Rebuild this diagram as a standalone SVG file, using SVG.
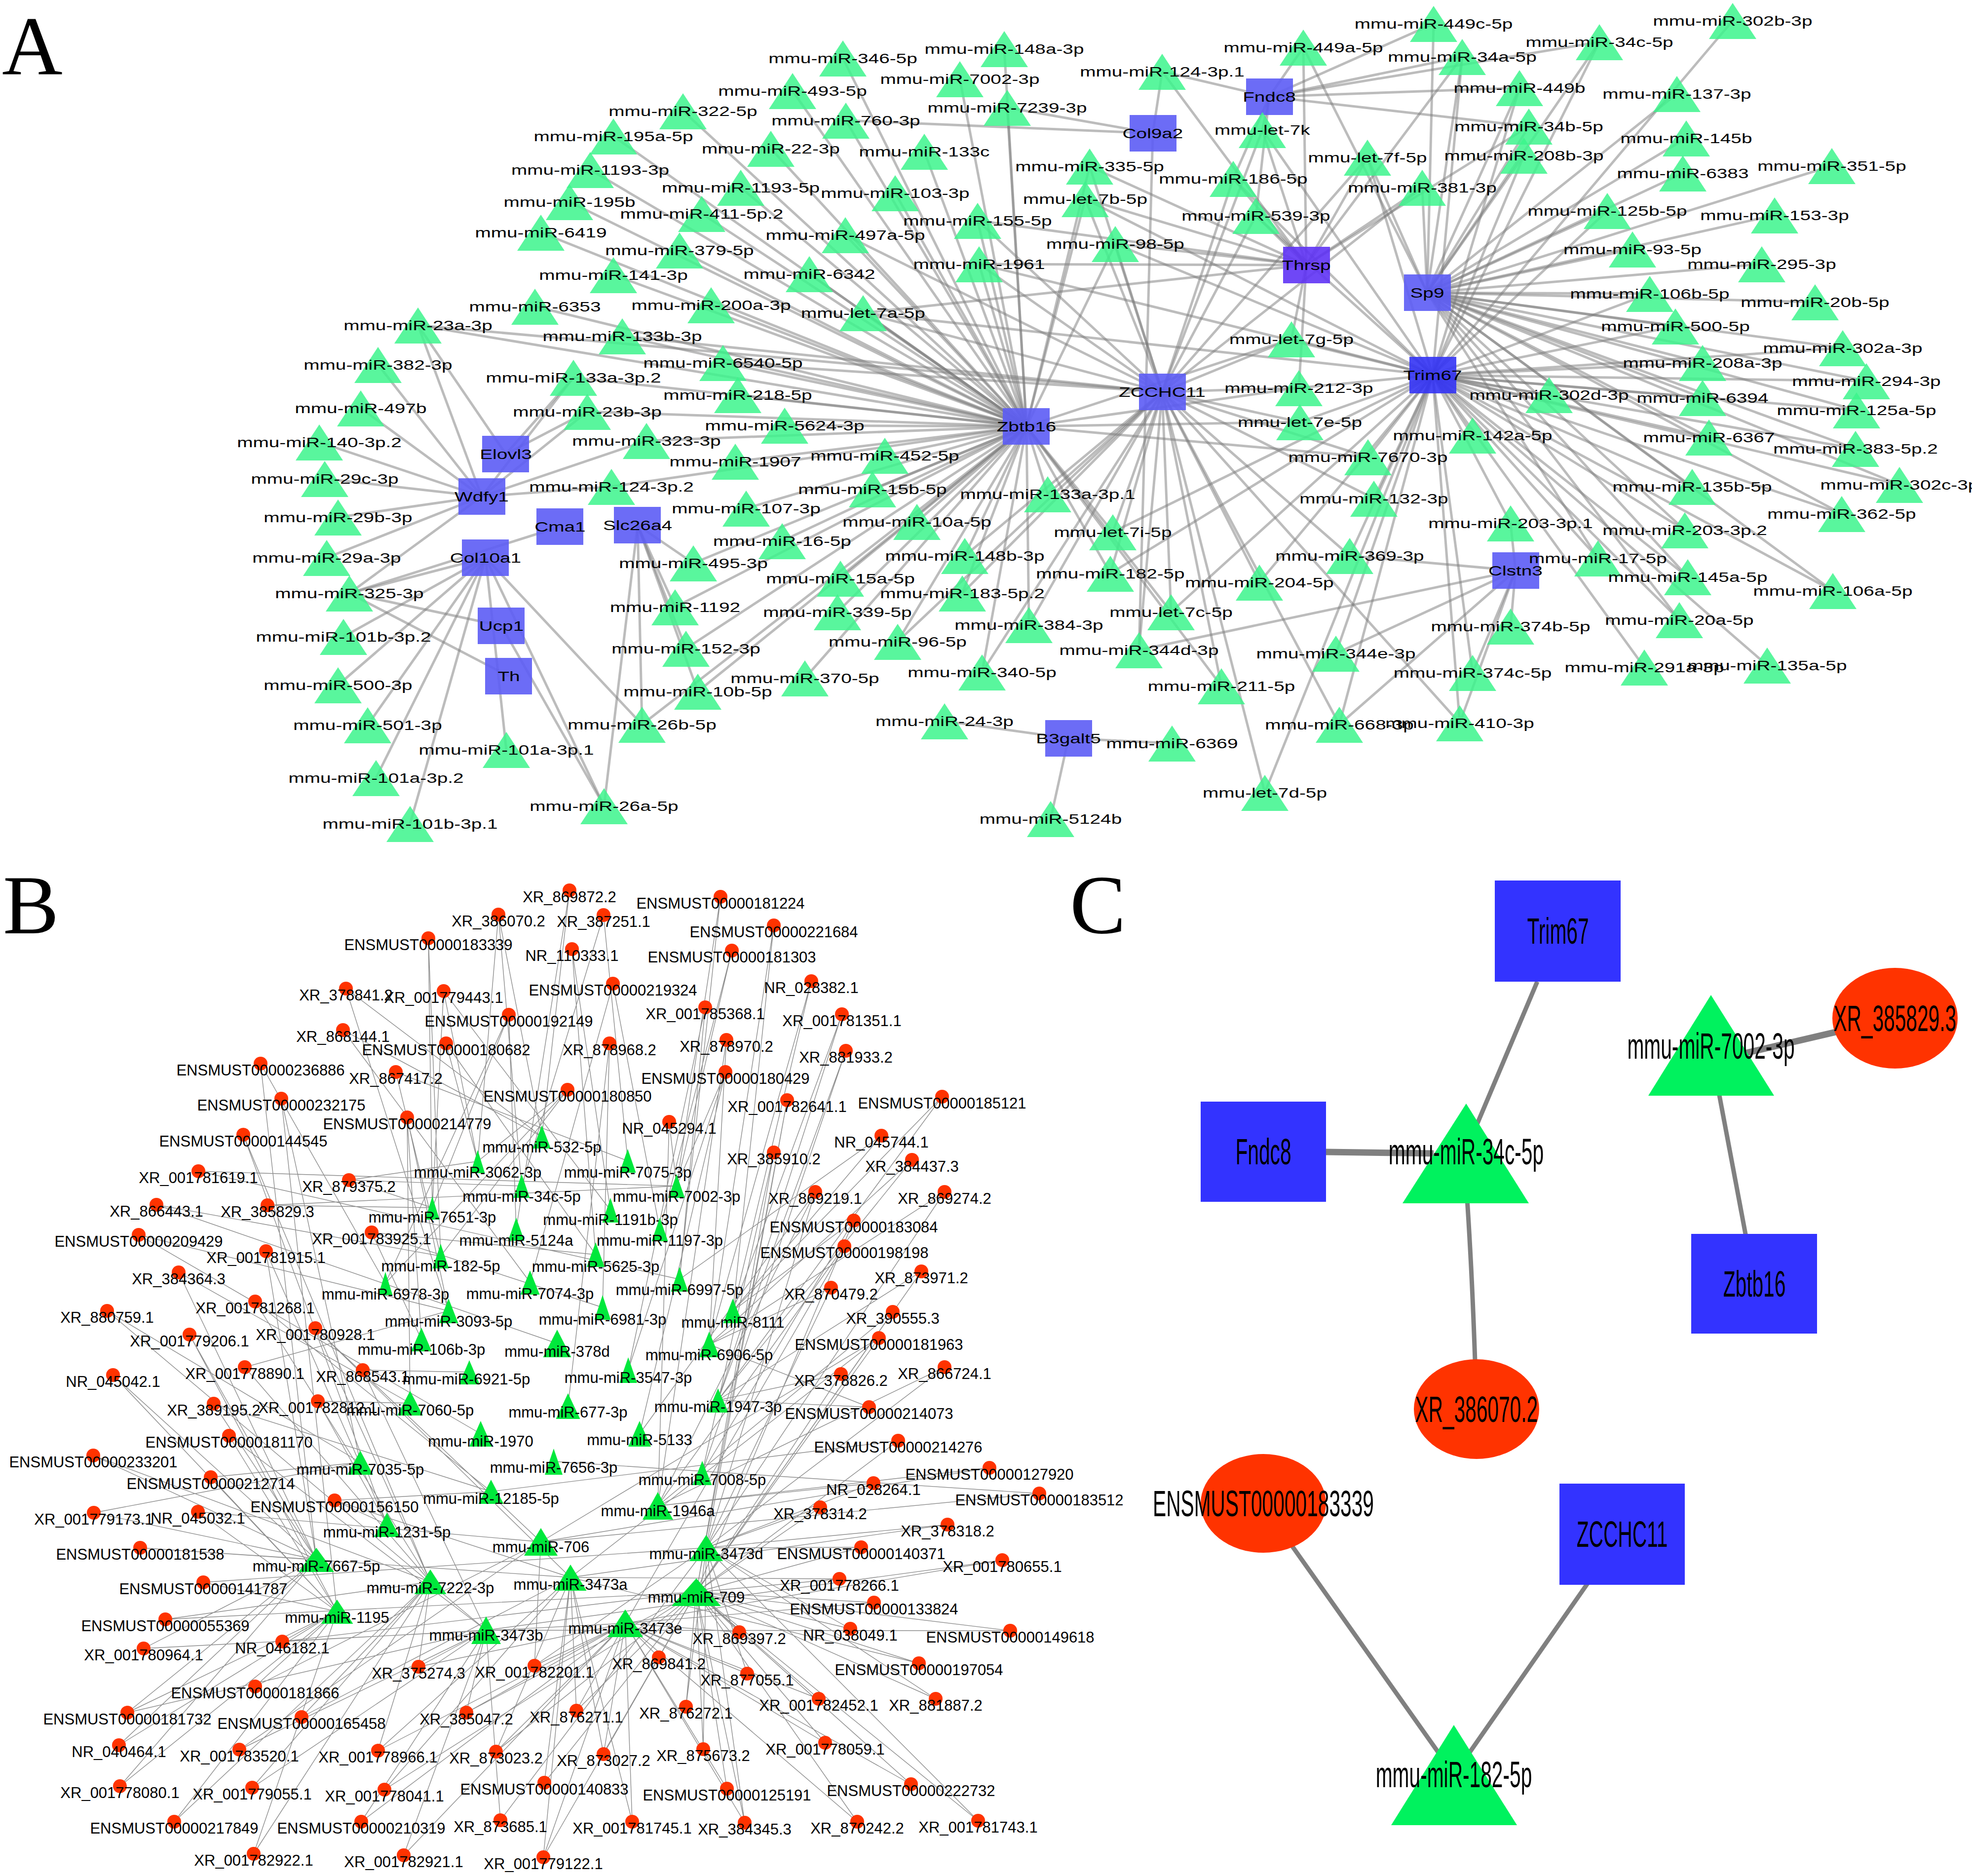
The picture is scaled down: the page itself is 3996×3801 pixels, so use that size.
<svg xmlns="http://www.w3.org/2000/svg" xmlns:xlink="http://www.w3.org/1999/xlink" width="3996" height="3801" viewBox="0 0 3996 3801">
<style>
text{font-family:"Liberation Sans",Arial,sans-serif;text-anchor:middle;fill:#000}
.plet{font-family:"Liberation Serif","Times New Roman",serif;font-size:170px;text-anchor:start}
#pa text{font-size:28.5px;transform-box:fill-box;transform-origin:50% 50%;transform:scaleX(1.36)}
#pa use{fill:#3cf58c;fill-opacity:.85}
#pa rect{fill:#5c5cf5;fill-opacity:.9}
#pb text{font-size:31px}
#pb polygon{fill:#00e83c}
#pb circle{fill:#ff3300}
#pc text{font-size:74px;transform-box:fill-box;transform-origin:50% 50%;transform:scaleX(.55)}
#pc rect{fill:#3333ff}
#pc ellipse{fill:#ff3300}
#pc polygon{fill:#00f25e}
.ea path{stroke:#7a7a7a;stroke-opacity:.5;stroke-width:5;fill:none}
.eb{stroke:#8e8e8e;stroke-width:1.4;fill:none}
.ec path{stroke:#808080;stroke-width:9;fill:none}
</style>
<defs>
<path id="ta" d="M0 -36L48 37L-48 37Z"/>
</defs>
<rect width="3996" height="3801" fill="#fff"/>
<text class="plet" x="4" y="151">A</text>
<text class="plet" x="6" y="1891">B</text>
<text class="plet" x="2168" y="1890">C</text>

<g id="connectors">
<g id="edges-a" class="ea">
<path d="M2080 864L1708 118"/><path d="M2080 864L2035 99"/><path d="M2080 864L1945 160"/><path d="M2080 864L1606 184"/><path d="M2080 864L1384 225"/><path d="M2080 864L1714 244"/><path d="M2080 864L2041 218"/><path d="M2080 864L1243 276"/><path d="M2080 864L1562 301"/><path d="M2080 864L1873 307"/><path d="M2080 864L1196 344"/><path d="M2080 864L1501 380"/><path d="M2080 864L1814 391"/><path d="M2080 864L1154 409"/><path d="M2080 864L1422 433"/><path d="M2080 864L1981 447"/><path d="M2080 864L1096 471"/><path d="M2080 864L1713 476"/><path d="M2080 864L1377 507"/><path d="M2080 864L1984 535"/><path d="M2080 864L1243 557"/><path d="M2080 864L1640 555"/><path d="M2080 864L1441 618"/><path d="M2080 864L1084 621"/><path d="M2080 864L1749 634"/><path d="M2080 864L847 659"/><path d="M2080 864L1261 681"/><path d="M2080 864L1465 735"/><path d="M2080 864L1162 765"/><path d="M2080 864L1495 800"/><path d="M2080 864L1190 834"/><path d="M2080 864L1590 862"/><path d="M2080 864L1310 893"/><path d="M2080 864L1793 923"/><path d="M2080 864L1490 935"/><path d="M2080 864L1239 986"/><path d="M2080 864L1768 991"/><path d="M2080 864L2123 1001"/><path d="M2080 864L1512 1030"/><path d="M2080 864L1858 1057"/><path d="M2080 864L1585 1096"/><path d="M2080 864L1955 1126"/><path d="M2080 864L1405 1141"/><path d="M2080 864L1703 1172"/><path d="M2080 864L1950 1202"/><path d="M2080 864L1697 1240"/><path d="M2080 864L1819 1300"/><path d="M2080 864L1990 1362"/><path d="M2080 864L1631 1374"/><path d="M2080 864L1414 1401"/><path d="M2080 864L1301 1468"/><path d="M2080 864L2085 1266"/><path d="M2080 864L2255 1078"/><path d="M2080 864L2250 1162"/><path d="M2080 864L2199 403"/><path d="M2080 864L2208 337"/><path d="M2080 864L2260 494"/><path d="M2080 864L2617 687"/><path d="M2080 864L2632 786"/><path d="M2080 864L2634 855"/><path d="M2080 864L2373 1240"/><path d="M2080 864L2475 1390"/><path d="M2080 864L2772 926"/><path d="M2080 864L1368 1230"/><path d="M2080 864L1390 1314"/>
<path d="M2355 794L2199 403"/><path d="M2355 794L1749 634"/><path d="M2355 794L2260 494"/><path d="M2355 794L2499 362"/><path d="M2355 794L2545 437"/><path d="M2355 794L2558 263"/><path d="M2355 794L2771 319"/><path d="M2355 794L2882 380"/><path d="M2355 794L1984 535"/><path d="M2355 794L1981 447"/><path d="M2355 794L2208 337"/><path d="M2355 794L2617 687"/><path d="M2355 794L2632 786"/><path d="M2355 794L2634 855"/><path d="M2355 794L2255 1078"/><path d="M2355 794L2250 1162"/><path d="M2355 794L2373 1240"/><path d="M2355 794L2552 1180"/><path d="M2355 794L2308 1317"/><path d="M2355 794L2475 1390"/><path d="M2355 794L2563 1606"/><path d="M2355 794L2714 1468"/><path d="M2355 794L2735 1126"/><path d="M2355 794L2784 1010"/><path d="M2355 794L2772 926"/><path d="M2355 794L2123 1001"/><path d="M2355 794L2085 1266"/><path d="M2355 794L1990 1362"/><path d="M2355 794L1950 1202"/><path d="M2355 794L1955 1126"/><path d="M2355 794L847 659"/><path d="M2355 794L1261 681"/><path d="M2355 794L1465 735"/><path d="M2355 794L1819 1300"/><path d="M2355 794L2958 1465"/><path d="M2355 794L1713 476"/>
<path d="M2903 760L3139 800"/><path d="M2903 760L2984 882"/><path d="M2903 760L2772 926"/><path d="M2903 760L2784 1010"/><path d="M2903 760L3061 1060"/><path d="M2903 760L3414 1074"/><path d="M2903 760L3238 1131"/><path d="M2903 760L3420 1169"/><path d="M2903 760L3403 1256"/><path d="M2903 760L3332 1352"/><path d="M2903 760L3581 1348"/><path d="M2903 760L3714 1197"/><path d="M2903 760L3732 1041"/><path d="M2903 760L3429 986"/><path d="M2903 760L3463 886"/><path d="M2903 760L3760 909"/><path d="M2903 760L3762 831"/><path d="M2903 760L3450 806"/><path d="M2903 760L3450 735"/><path d="M2903 760L3782 772"/><path d="M2903 760L3734 705"/><path d="M2903 760L3395 661"/><path d="M2903 760L3343 595"/><path d="M2903 760L3849 982"/><path d="M2903 760L2617 687"/><path d="M2903 760L2634 855"/><path d="M2903 760L2373 1240"/><path d="M2903 760L2563 1606"/><path d="M2903 760L2255 1078"/><path d="M2903 760L2199 403"/><path d="M2903 760L1749 634"/><path d="M2903 760L2771 319"/><path d="M2903 760L2558 263"/><path d="M2903 760L2260 494"/><path d="M2903 760L2632 786"/><path d="M2903 760L3088 315"/><path d="M2903 760L2963 115"/><path d="M2903 760L3511 42"/><path d="M2903 760L3079 178"/><path d="M2903 760L2735 1126"/><path d="M2903 760L2984 1363"/><path d="M2903 760L2958 1465"/><path d="M2903 760L2714 1468"/><path d="M2903 760L2707 1324"/><path d="M2903 760L2552 1180"/><path d="M2903 760L2250 1162"/><path d="M2903 760L1984 535"/><path d="M2903 760L3257 427"/><path d="M2903 760L3241 85"/><path d="M2903 760L2545 437"/><path d="M2903 760L2499 362"/>
<path d="M2892 593L2905 48"/><path d="M2892 593L3398 190"/><path d="M2892 593L3417 280"/><path d="M2892 593L3410 351"/><path d="M2892 593L3712 336"/><path d="M2892 593L3257 427"/><path d="M2892 593L3596 436"/><path d="M2892 593L3308 505"/><path d="M2892 593L3570 535"/><path d="M2892 593L3343 595"/><path d="M2892 593L3678 612"/><path d="M2892 593L3395 661"/><path d="M2892 593L3734 705"/><path d="M2892 593L3450 735"/><path d="M2892 593L3782 772"/><path d="M2892 593L3450 806"/><path d="M2892 593L3762 831"/><path d="M2892 593L3463 886"/><path d="M2892 593L3429 986"/><path d="M2892 593L3732 1041"/><path d="M2892 593L3760 909"/><path d="M2892 593L3241 85"/><path d="M2892 593L2882 380"/><path d="M2892 593L2771 319"/><path d="M2892 593L3088 315"/><path d="M2892 593L3098 256"/><path d="M2892 593L3079 178"/><path d="M2892 593L3414 1074"/><path d="M2892 593L3420 1169"/><path d="M2892 593L3238 1131"/><path d="M2892 593L3714 1197"/><path d="M2892 593L3403 1256"/><path d="M2892 593L3849 982"/><path d="M2892 593L2963 115"/><path d="M2892 593L2641 96"/>
<path d="M2647 537L1984 535"/><path d="M2647 537L1749 634"/><path d="M2647 537L2260 494"/><path d="M2647 537L2499 362"/><path d="M2647 537L2545 437"/><path d="M2647 537L2558 263"/><path d="M2647 537L2771 319"/><path d="M2647 537L2882 380"/><path d="M2647 537L2208 337"/><path d="M2647 537L2199 403"/><path d="M2647 537L1981 447"/><path d="M2647 537L2355 145"/><path d="M2647 537L2641 96"/><path d="M2647 537L2617 687"/><path d="M2647 537L2632 786"/><path d="M2647 537L2963 115"/><path d="M2647 537L3098 256"/>
<path d="M2572 196L2355 145"/><path d="M2572 196L2641 96"/><path d="M2572 196L2905 48"/><path d="M2572 196L2963 115"/><path d="M2572 196L3241 85"/><path d="M2572 196L3079 178"/><path d="M2572 196L3098 256"/><path d="M2572 196L2558 263"/><path d="M2572 196L2545 437"/><path d="M2572 196L2499 362"/>
<path d="M2336 270L1714 244"/><path d="M2336 270L2041 218"/><path d="M2336 270L2355 145"/><path d="M2336 270L2308 1317"/>
<path d="M3071 1156L2735 1126"/><path d="M3071 1156L3061 1060"/><path d="M3071 1156L3061 1269"/><path d="M3071 1156L2984 1363"/><path d="M3071 1156L2707 1324"/><path d="M3071 1156L2958 1465"/><path d="M3071 1156L2308 1317"/><path d="M3071 1156L2714 1468"/>
<path d="M2165 1496L1914 1461"/><path d="M2165 1496L2375 1506"/><path d="M2165 1496L2129 1659"/>
<path d="M976 1006L647 896"/><path d="M976 1006L658 970"/><path d="M976 1006L685 1048"/><path d="M976 1006L662 1130"/><path d="M976 1006L708 1202"/><path d="M976 1006L731 827"/><path d="M976 1006L766 739"/><path d="M976 1006L847 659"/><path d="M976 1006L1190 834"/><path d="M976 1006L1239 986"/><path d="M976 1006L1162 765"/><path d="M976 1006L1310 893"/>
<path d="M1025 920L847 659"/><path d="M1025 920L1190 834"/><path d="M1025 920L1162 765"/>
<path d="M984 1130L708 1202"/><path d="M984 1130L696 1290"/><path d="M984 1130L685 1388"/><path d="M984 1130L745 1469"/><path d="M984 1130L762 1576"/><path d="M984 1130L831 1669"/><path d="M984 1130L1026 1519"/><path d="M984 1130L1224 1633"/><path d="M984 1130L1301 1468"/>
<path d="M1135 1067L708 1202"/><path d="M1016 1268L708 1202"/><path d="M1016 1268L1224 1633"/><path d="M1031 1370L708 1202"/>
<path d="M1292 1064L1405 1141"/><path d="M1292 1064L1368 1230"/><path d="M1292 1064L1301 1468"/><path d="M1292 1064L1224 1633"/><path d="M1292 1064L1390 1314"/><path d="M1292 1064L1414 1401"/>
</g>
<g id="edges-b">
<path class="eb" d="M1010 1853L1057 2403M1010 1853L1098 2303M1010 1853L968 2353M868 1901L893 2545M868 1901L876 2447M701 2003L1098 2303M701 2003L909 2656M899 2008L876 2447M899 2008L968 2353M899 2008L1237 2452M695 2087L1098 2303M695 2087L1074 2598M904 2114L968 2353M904 2114L1207 2542M528 2155L641 3160M528 2155L781 2600M802 2172L1272 2352M802 2172L893 2545M570 2226L730 2963M570 2226L683 3265M825 2264L909 2656M825 2264L854 2714M825 2264L831 2843M493 2299L784 3089M493 2299L872 3205M402 2373L1371 2403M402 2373L1377 2592M707 2391L968 2353M707 2391L876 2447M707 2391L1057 2403M317 2441L893 2545M317 2441L1129 2722M542 2442L1371 2403M542 2442L876 2447M281 2502L909 2656M281 2502L974 2905M753 2497L1221 2649M753 2497L1207 2542M753 2497L854 2714M539 2535L784 3089M539 2535L641 3160M362 2578L831 2843M362 2578L641 3160M517 2637L872 3205M517 2637L995 3022M217 2656L730 2963M217 2656L985 3303M384 2704L683 3265M384 2704L641 3160M639 2691L1096 3124M639 2691L1156 3196M639 2691L872 3205"/>
<path class="eb" d="M1154 1804L1098 2303M1154 1804L1046 2490M1460 1817L1377 2592M1460 1817L1371 2403M1223 1854L1272 2352M1223 1854L1057 2403M1568 1875L1485 2656M1568 1875L1437 2724M1159 1923L1237 2452M1159 1923L1207 2542M1483 1926L1371 2403M1483 1926L1337 2491M1242 1993L1074 2598M1242 1993L1337 2491M1644 1988L1485 2656M1644 1988L1437 2724M1031 2056L876 2447M1031 2056L781 2600M1031 2056L1046 2490M1429 2041L1377 2592M1429 2041L1273 2776M1706 2055L1455 2837M1706 2055L1485 2656M1235 2114L1221 2649M1235 2114L1151 2849M1472 2107L1437 2724M1472 2107L1333 3051M1714 2129L1455 2837M1714 2129L1423 2984M1470 2172L1371 2403M1470 2172L1273 2776M1470 2172L1296 2905M1150 2208L893 2545M1150 2208L781 2600M1150 2208L968 2353M1595 2229L1431 3136M1595 2229L1411 3226M1909 2222L1485 2656M1909 2222L1455 2837M1356 2273L1371 2403M1356 2273L1333 3051M1786 2301L1377 2592M1786 2301L1485 2656M1568 2335L1411 3226M1568 2335L1423 2984M1848 2350L1455 2837M1848 2350L1437 2724M1652 2415L1431 3136M1652 2415L1333 3051M1652 2415L1296 2905M1914 2415L1437 2724M1914 2415L1431 3136M1730 2473L1411 3226M1730 2473L1423 2984M1730 2473L1485 2656M1711 2525L1333 3051M1711 2525L1267 3289M1867 2576L1411 3226M1867 2576L1455 2837M1684 2609L1431 3136M1684 2609L1437 2724M1809 2658L1411 3226M1809 2658L1333 3051M1781 2711L1096 3124M1781 2711L1156 3196M1781 2711L1411 3226"/>
<path class="eb" d="M496 2770L872 3205M496 2770L909 2656M229 2786L683 3265M229 2786L641 3160M735 2776L951 2780M735 2776L985 3303M433 2844L641 3160M433 2844L995 3022M644 2839L831 2843M644 2839L784 3089M464 2909L683 3265M464 2909L985 3303M189 2949L641 3160M189 2949L872 3205M427 2993L730 2963M427 2993L683 3265M678 3040L784 3089M678 3040L1156 3196M678 3040L995 3022M190 3065L641 3160M190 3065L730 2963M401 3063L683 3265M401 3063L1096 3124M284 3136L641 3160M284 3136L1156 3196M412 3206L683 3265M412 3206L1431 3136M335 3281L872 3205M335 3281L1411 3226M291 3340L641 3160M291 3340L1267 3289M572 3326L683 3265M572 3326L985 3303M572 3326L1411 3226M848 3377L985 3303M848 3377L872 3205M848 3377L1267 3289M517 3417L683 3265M517 3417L1096 3124M258 3470L641 3160M258 3470L683 3265M258 3470L985 3303M611 3479L1156 3196M611 3479L872 3205M945 3470L1267 3289M945 3470L1411 3226M945 3470L985 3303M241 3536L683 3265M241 3536L641 3160M485 3545L985 3303M485 3545L1096 3124M766 3547L1267 3289M766 3547L1156 3196M766 3547L872 3205M243 3619L683 3265M243 3619L641 3160M511 3622L872 3205M511 3622L985 3303M779 3626L1156 3196M779 3626L1411 3226M353 3691L683 3265M353 3691L872 3205M732 3691L985 3303M732 3691L1267 3289M514 3756L872 3205M514 3756L683 3265M818 3759L985 3303M818 3759L1267 3289M1005 3549L1156 3196M1005 3549L1411 3226M1005 3549L1267 3289M1014 3688L985 3303M1014 3688L1431 3136M1101 3763L1411 3226M1101 3763L1267 3289M1101 3763L1156 3196M1083 3375L1267 3289M1083 3375L1431 3136M1083 3375L1096 3124M1103 3612L1156 3196M1103 3612L1411 3226"/>
<path class="eb" d="M1704 2784L1455 2837M1704 2784L1411 3226M1914 2770L1431 3136M1914 2770L1333 3051M1761 2851L1455 2837M1761 2851L1437 2724M1820 2919L1411 3226M1820 2919L995 3022M2005 2974L1333 3051M2005 2974L1096 3124M1770 3005L1431 3136M1770 3005L1333 3051M2106 3026L1096 3124M2106 3026L1122 2961M1662 3054L1431 3136M1662 3054L1411 3226M1920 3089L1431 3136M1920 3089L1156 3196M1745 3135L1431 3136M1745 3135L1411 3226M2031 3161L1267 3289M2031 3161L985 3303M1701 3199L1411 3226M1701 3199L1156 3196M1771 3247L1411 3226M1771 3247L1267 3289M1723 3300L1411 3226M1723 3300L1431 3136M2047 3304L985 3303M2047 3304L1411 3226M1498 3307L1411 3226M1498 3307L1267 3289M1335 3358L1267 3289M1335 3358L1411 3226M1514 3391L1431 3136M1514 3391L1267 3289M1862 3370L1411 3226M1862 3370L1156 3196M1659 3442L1411 3226M1659 3442L1267 3289M1896 3442L1431 3136M1896 3442L1411 3226M1168 3466L1267 3289M1168 3466L1156 3196M1168 3466L1411 3226M1390 3458L1431 3136M1390 3458L1411 3226M1672 3531L1411 3226M1672 3531L1267 3289M1223 3554L1156 3196M1223 3554L1267 3289M1223 3554L1411 3226M1425 3544L1411 3226M1425 3544L1431 3136M1473 3624L1411 3226M1473 3624L1267 3289M1846 3615L1411 3226M1846 3615L1267 3289M1281 3691L1267 3289M1281 3691L1156 3196M1509 3693L1411 3226M1509 3693L1267 3289M1509 3693L1431 3136M1737 3691L1411 3226M1737 3691L1267 3289M1982 3689L1411 3226M1982 3689L1431 3136"/>
</g>
<g id="edges-c" class="ec">
<path d="M2687 2334L2905 2337" style="stroke-width:13"/>
<path d="M3115 1989L2971 2330"/>
<path d="M2971 2400Q2985 2600 2992 2855"/>
<path d="M3467 2150L3840 2063" style="stroke-width:13"/>
<path d="M3471 2150L3556 2601"/>
<path d="M2557 3046L2946 3595"/>
<path d="M3287 3108L2947 3595"/>
</g>
</g>

<g id="pa">
<g id="a-zbtb16"><rect x="2032" y="827" width="95" height="74"/><text x="2080" y="874">Zbtb16</text></g>
<g id="a-zcchc11"><rect x="2308" y="757" width="95" height="74"/><text x="2355" y="804">ZCCHC11</text></g>
<g id="a-trim67"><rect x="2856" y="723" width="95" height="74" style="fill:#3333f5"/><text x="2903" y="770">Trim67</text></g>
<g id="a-sp9"><rect x="2845" y="556" width="95" height="74"/><text x="2892" y="603">Sp9</text></g>
<g id="a-thrsp"><rect x="2600" y="500" width="95" height="74" style="fill:#5f33f5"/><text x="2647" y="547">Thrsp</text></g>
<g id="a-col9a2"><rect x="2289" y="233" width="95" height="74"/><text x="2336" y="280">Col9a2</text></g>
<g id="a-fndc8"><rect x="2525" y="159" width="95" height="74"/><text x="2572" y="206">Fndc8</text></g>
<g id="a-clstn3"><rect x="3024" y="1119" width="95" height="74"/><text x="3071" y="1166">Clstn3</text></g>
<g id="a-b3galt5"><rect x="2118" y="1459" width="95" height="74"/><text x="2165" y="1506">B3galt5</text></g>
<g id="a-elovl3"><rect x="977" y="883" width="95" height="74"/><text x="1025" y="930">Elovl3</text></g>
<g id="a-wdfy1"><rect x="929" y="969" width="95" height="74"/><text x="976" y="1016">Wdfy1</text></g>
<g id="a-cma1"><rect x="1087" y="1030" width="95" height="74"/><text x="1135" y="1077">Cma1</text></g>
<g id="a-col10a1"><rect x="936" y="1093" width="95" height="74"/><text x="984" y="1140">Col10a1</text></g>
<g id="a-slc26a4"><rect x="1244" y="1027" width="95" height="74"/><text x="1292" y="1074">Slc26a4</text></g>
<g id="a-ucp1"><rect x="968" y="1231" width="95" height="74"/><text x="1016" y="1278">Ucp1</text></g>
<g id="a-th"><rect x="983" y="1333" width="95" height="74"/><text x="1031" y="1380">Th</text></g>

<g id="a-mir-346-5p"><use href="#ta" x="1708" y="118"/><text x="1708" y="128">mmu-miR-346-5p</text></g>
<g id="a-mir-148a-3p"><use href="#ta" x="2035" y="99"/><text x="2035" y="109">mmu-miR-148a-3p</text></g>
<g id="a-mir-7002-3p"><use href="#ta" x="1945" y="160"/><text x="1945" y="170">mmu-miR-7002-3p</text></g>
<g id="a-mir-124-3p-1"><use href="#ta" x="2355" y="145"/><text x="2355" y="155">mmu-miR-124-3p.1</text></g>
<g id="a-mir-493-5p"><use href="#ta" x="1606" y="184"/><text x="1606" y="194">mmu-miR-493-5p</text></g>
<g id="a-mir-322-5p"><use href="#ta" x="1384" y="225"/><text x="1384" y="235">mmu-miR-322-5p</text></g>
<g id="a-mir-760-3p"><use href="#ta" x="1714" y="244"/><text x="1714" y="254">mmu-miR-760-3p</text></g>
<g id="a-mir-7239-3p"><use href="#ta" x="2041" y="218"/><text x="2041" y="228">mmu-miR-7239-3p</text></g>
<g id="a-mir-195a-5p"><use href="#ta" x="1243" y="276"/><text x="1243" y="286">mmu-miR-195a-5p</text></g>
<g id="a-mir-22-3p"><use href="#ta" x="1562" y="301"/><text x="1562" y="311">mmu-miR-22-3p</text></g>
<g id="a-mir-133c"><use href="#ta" x="1873" y="307"/><text x="1873" y="317">mmu-miR-133c</text></g>
<g id="a-mir-1193-3p"><use href="#ta" x="1196" y="344"/><text x="1196" y="354">mmu-miR-1193-3p</text></g>
<g id="a-mir-335-5p"><use href="#ta" x="2208" y="337"/><text x="2208" y="347">mmu-miR-335-5p</text></g>
<g id="a-mir-1193-5p"><use href="#ta" x="1501" y="380"/><text x="1501" y="390">mmu-miR-1193-5p</text></g>
<g id="a-mir-103-3p"><use href="#ta" x="1814" y="391"/><text x="1814" y="401">mmu-miR-103-3p</text></g>
<g id="a-mir-195b"><use href="#ta" x="1154" y="409"/><text x="1154" y="419">mmu-miR-195b</text></g>
<g id="a-let-7b-5p"><use href="#ta" x="2199" y="403"/><text x="2199" y="413">mmu-let-7b-5p</text></g>
<g id="a-mir-411-5p-2"><use href="#ta" x="1422" y="433"/><text x="1422" y="443">mmu-miR-411-5p.2</text></g>
<g id="a-mir-155-5p"><use href="#ta" x="1981" y="447"/><text x="1981" y="457">mmu-miR-155-5p</text></g>
<g id="a-mir-6419"><use href="#ta" x="1096" y="471"/><text x="1096" y="481">mmu-miR-6419</text></g>
<g id="a-mir-497a-5p"><use href="#ta" x="1713" y="476"/><text x="1713" y="486">mmu-miR-497a-5p</text></g>
<g id="a-mir-98-5p"><use href="#ta" x="2260" y="494"/><text x="2260" y="504">mmu-miR-98-5p</text></g>
<g id="a-mir-379-5p"><use href="#ta" x="1377" y="507"/><text x="1377" y="517">mmu-miR-379-5p</text></g>
<g id="a-mir-1961"><use href="#ta" x="1984" y="535"/><text x="1984" y="545">mmu-miR-1961</text></g>
<g id="a-mir-141-3p"><use href="#ta" x="1243" y="557"/><text x="1243" y="567">mmu-miR-141-3p</text></g>
<g id="a-mir-6342"><use href="#ta" x="1640" y="555"/><text x="1640" y="565">mmu-miR-6342</text></g>
<g id="a-mir-200a-3p"><use href="#ta" x="1441" y="618"/><text x="1441" y="628">mmu-miR-200a-3p</text></g>
<g id="a-mir-6353"><use href="#ta" x="1084" y="621"/><text x="1084" y="631">mmu-miR-6353</text></g>
<g id="a-let-7a-5p"><use href="#ta" x="1749" y="634"/><text x="1749" y="644">mmu-let-7a-5p</text></g>
<g id="a-mir-23a-3p"><use href="#ta" x="847" y="659"/><text x="847" y="669">mmu-miR-23a-3p</text></g>
<g id="a-mir-133b-3p"><use href="#ta" x="1261" y="681"/><text x="1261" y="691">mmu-miR-133b-3p</text></g>
<g id="a-mir-6540-5p"><use href="#ta" x="1465" y="735"/><text x="1465" y="745">mmu-miR-6540-5p</text></g>
<g id="a-mir-382-3p"><use href="#ta" x="766" y="739"/><text x="766" y="749">mmu-miR-382-3p</text></g>
<g id="a-mir-133a-3p-2"><use href="#ta" x="1162" y="765"/><text x="1162" y="775">mmu-miR-133a-3p.2</text></g>
<g id="a-mir-218-5p"><use href="#ta" x="1495" y="800"/><text x="1495" y="810">mmu-miR-218-5p</text></g>
<g id="a-mir-497b"><use href="#ta" x="731" y="827"/><text x="731" y="837">mmu-miR-497b</text></g>
<g id="a-mir-23b-3p"><use href="#ta" x="1190" y="834"/><text x="1190" y="844">mmu-miR-23b-3p</text></g>
<g id="a-mir-5624-3p"><use href="#ta" x="1590" y="862"/><text x="1590" y="872">mmu-miR-5624-3p</text></g>
<g id="a-mir-323-3p"><use href="#ta" x="1310" y="893"/><text x="1310" y="903">mmu-miR-323-3p</text></g>
<g id="a-mir-140-3p-2"><use href="#ta" x="647" y="896"/><text x="647" y="906">mmu-miR-140-3p.2</text></g>
<g id="a-mir-452-5p"><use href="#ta" x="1793" y="923"/><text x="1793" y="933">mmu-miR-452-5p</text></g>
<g id="a-mir-1907"><use href="#ta" x="1490" y="935"/><text x="1490" y="945">mmu-miR-1907</text></g>
<g id="a-mir-29c-3p"><use href="#ta" x="658" y="970"/><text x="658" y="980">mmu-miR-29c-3p</text></g>
<g id="a-mir-124-3p-2"><use href="#ta" x="1239" y="986"/><text x="1239" y="996">mmu-miR-124-3p.2</text></g>
<g id="a-mir-15b-5p"><use href="#ta" x="1768" y="991"/><text x="1768" y="1001">mmu-miR-15b-5p</text></g>
<g id="a-mir-133a-3p-1"><use href="#ta" x="2123" y="1001"/><text x="2123" y="1011">mmu-miR-133a-3p.1</text></g>
<g id="a-mir-107-3p"><use href="#ta" x="1512" y="1030"/><text x="1512" y="1040">mmu-miR-107-3p</text></g>
<g id="a-mir-29b-3p"><use href="#ta" x="685" y="1048"/><text x="685" y="1058">mmu-miR-29b-3p</text></g>
<g id="a-mir-10a-5p"><use href="#ta" x="1858" y="1057"/><text x="1858" y="1067">mmu-miR-10a-5p</text></g>
<g id="a-let-7i-5p"><use href="#ta" x="2255" y="1078"/><text x="2255" y="1088">mmu-let-7i-5p</text></g>
<g id="a-mir-16-5p"><use href="#ta" x="1585" y="1096"/><text x="1585" y="1106">mmu-miR-16-5p</text></g>
<g id="a-mir-148b-3p"><use href="#ta" x="1955" y="1126"/><text x="1955" y="1136">mmu-miR-148b-3p</text></g>
<g id="a-mir-29a-3p"><use href="#ta" x="662" y="1130"/><text x="662" y="1140">mmu-miR-29a-3p</text></g>
<g id="a-mir-495-3p"><use href="#ta" x="1405" y="1141"/><text x="1405" y="1151">mmu-miR-495-3p</text></g>
<g id="a-mir-182-5p"><use href="#ta" x="2250" y="1162"/><text x="2250" y="1172">mmu-miR-182-5p</text></g>
<g id="a-mir-15a-5p"><use href="#ta" x="1703" y="1172"/><text x="1703" y="1182">mmu-miR-15a-5p</text></g>
<g id="a-mir-204-5p"><use href="#ta" x="2552" y="1180"/><text x="2552" y="1190">mmu-miR-204-5p</text></g>
<g id="a-mir-183-5p-2"><use href="#ta" x="1950" y="1202"/><text x="1950" y="1212">mmu-miR-183-5p.2</text></g>
<g id="a-mir-325-3p"><use href="#ta" x="708" y="1202"/><text x="708" y="1212">mmu-miR-325-3p</text></g>
<g id="a-mir-1192"><use href="#ta" x="1368" y="1230"/><text x="1368" y="1240">mmu-miR-1192</text></g>
<g id="a-let-7c-5p"><use href="#ta" x="2373" y="1240"/><text x="2373" y="1250">mmu-let-7c-5p</text></g>
<g id="a-mir-339-5p"><use href="#ta" x="1697" y="1240"/><text x="1697" y="1250">mmu-miR-339-5p</text></g>
<g id="a-mir-384-3p"><use href="#ta" x="2085" y="1266"/><text x="2085" y="1276">mmu-miR-384-3p</text></g>
<g id="a-mir-101b-3p-2"><use href="#ta" x="696" y="1290"/><text x="696" y="1300">mmu-miR-101b-3p.2</text></g>
<g id="a-mir-96-5p"><use href="#ta" x="1819" y="1300"/><text x="1819" y="1310">mmu-miR-96-5p</text></g>
<g id="a-mir-152-3p"><use href="#ta" x="1390" y="1314"/><text x="1390" y="1324">mmu-miR-152-3p</text></g>
<g id="a-mir-344d-3p"><use href="#ta" x="2308" y="1317"/><text x="2308" y="1327">mmu-miR-344d-3p</text></g>
<g id="a-mir-340-5p"><use href="#ta" x="1990" y="1362"/><text x="1990" y="1372">mmu-miR-340-5p</text></g>
<g id="a-mir-370-5p"><use href="#ta" x="1631" y="1374"/><text x="1631" y="1384">mmu-miR-370-5p</text></g>
<g id="a-mir-500-3p"><use href="#ta" x="685" y="1388"/><text x="685" y="1398">mmu-miR-500-3p</text></g>
<g id="a-mir-211-5p"><use href="#ta" x="2475" y="1390"/><text x="2475" y="1400">mmu-miR-211-5p</text></g>
<g id="a-mir-10b-5p"><use href="#ta" x="1414" y="1401"/><text x="1414" y="1411">mmu-miR-10b-5p</text></g>
<g id="a-mir-24-3p"><use href="#ta" x="1914" y="1461"/><text x="1914" y="1471">mmu-miR-24-3p</text></g>
<g id="a-mir-26b-5p"><use href="#ta" x="1301" y="1468"/><text x="1301" y="1478">mmu-miR-26b-5p</text></g>
<g id="a-mir-501-3p"><use href="#ta" x="745" y="1469"/><text x="745" y="1479">mmu-miR-501-3p</text></g>
<g id="a-mir-6369"><use href="#ta" x="2375" y="1506"/><text x="2375" y="1516">mmu-miR-6369</text></g>
<g id="a-mir-101a-3p-1"><use href="#ta" x="1026" y="1519"/><text x="1026" y="1529">mmu-miR-101a-3p.1</text></g>
<g id="a-mir-101a-3p-2"><use href="#ta" x="762" y="1576"/><text x="762" y="1586">mmu-miR-101a-3p.2</text></g>
<g id="a-let-7d-5p"><use href="#ta" x="2563" y="1606"/><text x="2563" y="1616">mmu-let-7d-5p</text></g>
<g id="a-mir-26a-5p"><use href="#ta" x="1224" y="1633"/><text x="1224" y="1643">mmu-miR-26a-5p</text></g>
<g id="a-mir-5124b"><use href="#ta" x="2129" y="1659"/><text x="2129" y="1669">mmu-miR-5124b</text></g>
<g id="a-mir-101b-3p-1"><use href="#ta" x="831" y="1669"/><text x="831" y="1679">mmu-miR-101b-3p.1</text></g>
<g id="a-let-7k"><use href="#ta" x="2558" y="263"/><text x="2558" y="273">mmu-let-7k</text></g>
<g id="a-mir-186-5p"><use href="#ta" x="2499" y="362"/><text x="2499" y="372">mmu-miR-186-5p</text></g>
<g id="a-mir-539-3p"><use href="#ta" x="2545" y="437"/><text x="2545" y="447">mmu-miR-539-3p</text></g>
<g id="a-let-7f-5p"><use href="#ta" x="2771" y="319"/><text x="2771" y="329">mmu-let-7f-5p</text></g>
<g id="a-mir-381-3p"><use href="#ta" x="2882" y="380"/><text x="2882" y="390">mmu-miR-381-3p</text></g>
<g id="a-mir-449a-5p"><use href="#ta" x="2641" y="96"/><text x="2641" y="106">mmu-miR-449a-5p</text></g>
<g id="a-mir-449c-5p"><use href="#ta" x="2905" y="48"/><text x="2905" y="58">mmu-miR-449c-5p</text></g>
<g id="a-mir-34a-5p"><use href="#ta" x="2963" y="115"/><text x="2963" y="125">mmu-miR-34a-5p</text></g>
<g id="a-mir-34c-5p"><use href="#ta" x="3241" y="85"/><text x="3241" y="95">mmu-miR-34c-5p</text></g>
<g id="a-mir-302b-3p"><use href="#ta" x="3511" y="42"/><text x="3511" y="52">mmu-miR-302b-3p</text></g>
<g id="a-mir-449b"><use href="#ta" x="3079" y="178"/><text x="3079" y="188">mmu-miR-449b</text></g>
<g id="a-mir-137-3p"><use href="#ta" x="3398" y="190"/><text x="3398" y="200">mmu-miR-137-3p</text></g>
<g id="a-mir-34b-5p"><use href="#ta" x="3098" y="256"/><text x="3098" y="266">mmu-miR-34b-5p</text></g>
<g id="a-mir-145b"><use href="#ta" x="3417" y="280"/><text x="3417" y="290">mmu-miR-145b</text></g>
<g id="a-mir-208b-3p"><use href="#ta" x="3088" y="315"/><text x="3088" y="325">mmu-miR-208b-3p</text></g>
<g id="a-mir-351-5p"><use href="#ta" x="3712" y="336"/><text x="3712" y="346">mmu-miR-351-5p</text></g>
<g id="a-mir-6383"><use href="#ta" x="3410" y="351"/><text x="3410" y="361">mmu-miR-6383</text></g>
<g id="a-mir-125b-5p"><use href="#ta" x="3257" y="427"/><text x="3257" y="437">mmu-miR-125b-5p</text></g>
<g id="a-mir-153-3p"><use href="#ta" x="3596" y="436"/><text x="3596" y="446">mmu-miR-153-3p</text></g>
<g id="a-mir-93-5p"><use href="#ta" x="3308" y="505"/><text x="3308" y="515">mmu-miR-93-5p</text></g>
<g id="a-mir-295-3p"><use href="#ta" x="3570" y="535"/><text x="3570" y="545">mmu-miR-295-3p</text></g>
<g id="a-mir-106b-5p"><use href="#ta" x="3343" y="595"/><text x="3343" y="605">mmu-miR-106b-5p</text></g>
<g id="a-mir-20b-5p"><use href="#ta" x="3678" y="612"/><text x="3678" y="622">mmu-miR-20b-5p</text></g>
<g id="a-mir-500-5p"><use href="#ta" x="3395" y="661"/><text x="3395" y="671">mmu-miR-500-5p</text></g>
<g id="a-let-7g-5p"><use href="#ta" x="2617" y="687"/><text x="2617" y="697">mmu-let-7g-5p</text></g>
<g id="a-mir-302a-3p"><use href="#ta" x="3734" y="705"/><text x="3734" y="715">mmu-miR-302a-3p</text></g>
<g id="a-mir-208a-3p"><use href="#ta" x="3450" y="735"/><text x="3450" y="745">mmu-miR-208a-3p</text></g>
<g id="a-mir-294-3p"><use href="#ta" x="3782" y="772"/><text x="3782" y="782">mmu-miR-294-3p</text></g>
<g id="a-mir-212-3p"><use href="#ta" x="2632" y="786"/><text x="2632" y="796">mmu-miR-212-3p</text></g>
<g id="a-mir-302d-3p"><use href="#ta" x="3139" y="800"/><text x="3139" y="810">mmu-miR-302d-3p</text></g>
<g id="a-mir-6394"><use href="#ta" x="3450" y="806"/><text x="3450" y="816">mmu-miR-6394</text></g>
<g id="a-mir-125a-5p"><use href="#ta" x="3762" y="831"/><text x="3762" y="841">mmu-miR-125a-5p</text></g>
<g id="a-let-7e-5p"><use href="#ta" x="2634" y="855"/><text x="2634" y="865">mmu-let-7e-5p</text></g>
<g id="a-mir-142a-5p"><use href="#ta" x="2984" y="882"/><text x="2984" y="892">mmu-miR-142a-5p</text></g>
<g id="a-mir-6367"><use href="#ta" x="3463" y="886"/><text x="3463" y="896">mmu-miR-6367</text></g>
<g id="a-mir-383-5p-2"><use href="#ta" x="3760" y="909"/><text x="3760" y="919">mmu-miR-383-5p.2</text></g>
<g id="a-mir-7670-3p"><use href="#ta" x="2772" y="926"/><text x="2772" y="936">mmu-miR-7670-3p</text></g>
<g id="a-mir-302c-3p"><use href="#ta" x="3849" y="982"/><text x="3849" y="992">mmu-miR-302c-3p</text></g>
<g id="a-mir-135b-5p"><use href="#ta" x="3429" y="986"/><text x="3429" y="996">mmu-miR-135b-5p</text></g>
<g id="a-mir-132-3p"><use href="#ta" x="2784" y="1010"/><text x="2784" y="1020">mmu-miR-132-3p</text></g>
<g id="a-mir-362-5p"><use href="#ta" x="3732" y="1041"/><text x="3732" y="1051">mmu-miR-362-5p</text></g>
<g id="a-mir-203-3p-1"><use href="#ta" x="3061" y="1060"/><text x="3061" y="1070">mmu-miR-203-3p.1</text></g>
<g id="a-mir-203-3p-2"><use href="#ta" x="3414" y="1074"/><text x="3414" y="1084">mmu-miR-203-3p.2</text></g>
<g id="a-mir-369-3p"><use href="#ta" x="2735" y="1126"/><text x="2735" y="1136">mmu-miR-369-3p</text></g>
<g id="a-mir-17-5p"><use href="#ta" x="3238" y="1131"/><text x="3238" y="1141">mmu-miR-17-5p</text></g>
<g id="a-mir-145a-5p"><use href="#ta" x="3420" y="1169"/><text x="3420" y="1179">mmu-miR-145a-5p</text></g>
<g id="a-mir-106a-5p"><use href="#ta" x="3714" y="1197"/><text x="3714" y="1207">mmu-miR-106a-5p</text></g>
<g id="a-mir-20a-5p"><use href="#ta" x="3403" y="1256"/><text x="3403" y="1266">mmu-miR-20a-5p</text></g>
<g id="a-mir-374b-5p"><use href="#ta" x="3061" y="1269"/><text x="3061" y="1279">mmu-miR-374b-5p</text></g>
<g id="a-mir-344e-3p"><use href="#ta" x="2707" y="1324"/><text x="2707" y="1334">mmu-miR-344e-3p</text></g>
<g id="a-mir-291a-3p"><use href="#ta" x="3332" y="1352"/><text x="3332" y="1362">mmu-miR-291a-3p</text></g>
<g id="a-mir-135a-5p"><use href="#ta" x="3581" y="1348"/><text x="3581" y="1358">mmu-miR-135a-5p</text></g>
<g id="a-mir-374c-5p"><use href="#ta" x="2984" y="1363"/><text x="2984" y="1373">mmu-miR-374c-5p</text></g>
<g id="a-mir-668-3p"><use href="#ta" x="2714" y="1468"/><text x="2714" y="1478">mmu-miR-668-3p</text></g>
<g id="a-mir-410-3p"><use href="#ta" x="2958" y="1465"/><text x="2958" y="1475">mmu-miR-410-3p</text></g>
</g>

<g id="pb">
<g id="b-mir-532-5p"><polygon points="1098,2280 1116,2327 1080,2327"/><text x="1098" y="2335">mmu-miR-532-5p</text></g>
<g id="b-mir-7075-3p"><polygon points="1272,2328 1288.5,2376 1255.5,2376"/><text x="1272" y="2386">mmu-miR-7075-3p</text></g>
<g id="b-mir-3062-3p"><polygon points="968,2330 982.5,2377 953.5,2377"/><text x="968" y="2386">mmu-miR-3062-3p</text></g>
<g id="b-mir-34c-5p"><polygon points="1057,2379 1073.5,2427 1040.5,2427"/><text x="1057" y="2435">mmu-miR-34c-5p</text></g>
<g id="b-mir-7002-3p"><polygon points="1371,2379 1387.5,2427 1354.5,2427"/><text x="1371" y="2435">mmu-miR-7002-3p</text></g>
<g id="b-mir-7651-3p"><polygon points="876,2424 890.5,2471 861.5,2471"/><text x="876" y="2477">mmu-miR-7651-3p</text></g>
<g id="b-mir-1191b-3p"><polygon points="1237,2427 1253.5,2477 1220.5,2477"/><text x="1237" y="2482">mmu-miR-1191b-3p</text></g>
<g id="b-mir-5124a"><polygon points="1046,2467 1062.5,2514 1029.5,2514"/><text x="1046" y="2524">mmu-miR-5124a</text></g>
<g id="b-mir-1197-3p"><polygon points="1337,2467 1353.5,2515 1320.5,2515"/><text x="1337" y="2524">mmu-miR-1197-3p</text></g>
<g id="b-mir-182-5p"><polygon points="893,2520 909.5,2570 876.5,2570"/><text x="893" y="2576">mmu-miR-182-5p</text></g>
<g id="b-mir-5625-3p"><polygon points="1207,2517 1225,2567 1189,2567"/><text x="1207" y="2577">mmu-miR-5625-3p</text></g>
<g id="b-mir-7074-3p"><polygon points="1074,2574 1093.5,2623 1054.5,2623"/><text x="1074" y="2632">mmu-miR-7074-3p</text></g>
<g id="b-mir-6997-5p"><polygon points="1377,2567 1394.5,2617 1359.5,2617"/><text x="1377" y="2624">mmu-miR-6997-5p</text></g>
<g id="b-mir-6978-3p"><polygon points="781,2577 795.5,2624 766.5,2624"/><text x="781" y="2633">mmu-miR-6978-3p</text></g>
<g id="b-mir-6981-3p"><polygon points="1221,2624 1237.5,2674 1204.5,2674"/><text x="1221" y="2684">mmu-miR-6981-3p</text></g>
<g id="b-mir-3093-5p"><polygon points="909,2631 928.5,2681 889.5,2681"/><text x="909" y="2688">mmu-miR-3093-5p</text></g>
<g id="b-mir-8111"><polygon points="1485,2631 1504.5,2681 1465.5,2681"/><text x="1485" y="2690">mmu-miR-8111</text></g>
<g id="b-mir-106b-3p"><polygon points="854,2690 875,2738 833,2738"/><text x="854" y="2745">mmu-miR-106b-3p</text></g>
<g id="b-mir-378d"><polygon points="1129,2694 1157.5,2750 1100.5,2750"/><text x="1129" y="2749">mmu-miR-378d</text></g>
<g id="b-mir-6906-5p"><polygon points="1437,2698 1458,2750 1416,2750"/><text x="1437" y="2756">mmu-miR-6906-5p</text></g>
<g id="b-mir-3547-3p"><polygon points="1273,2750 1291,2802 1255,2802"/><text x="1273" y="2802">mmu-miR-3547-3p</text></g>
<g id="b-mir-6921-5p"><polygon points="951,2756 972,2805 930,2805"/><text x="945" y="2805">mmu-miR-6921-5p</text></g>
<g id="b-mir-1947-3p"><polygon points="1455,2813 1476,2862 1434,2862"/><text x="1455" y="2861">mmu-miR-1947-3p</text></g>
<g id="b-mir-7060-5p"><polygon points="831,2818 857,2868 805,2868"/><text x="831" y="2868">mmu-miR-7060-5p</text></g>
<g id="b-mir-677-3p"><polygon points="1151,2823 1175.5,2875 1126.5,2875"/><text x="1151" y="2872">mmu-miR-677-3p</text></g>
<g id="b-mir-1970"><polygon points="974,2879 997,2931 951,2931"/><text x="974" y="2931">mmu-miR-1970</text></g>
<g id="b-mir-5133"><polygon points="1296,2879 1319,2931 1273,2931"/><text x="1296" y="2928">mmu-miR-5133</text></g>
<g id="b-mir-7035-5p"><polygon points="730,2939 756,2988 704,2988"/><text x="730" y="2988">mmu-miR-7035-5p</text></g>
<g id="b-mir-7656-3p"><polygon points="1122,2935 1140,2988 1104,2988"/><text x="1122" y="2984">mmu-miR-7656-3p</text></g>
<g id="b-mir-7008-5p"><polygon points="1423,2960 1442.5,3009 1403.5,3009"/><text x="1423" y="3009">mmu-miR-7008-5p</text></g>
<g id="b-mir-12185-5p"><polygon points="995,2998 1020.5,3047 969.5,3047"/><text x="995" y="3047">mmu-miR-12185-5p</text></g>
<g id="b-mir-1946a"><polygon points="1333,3023 1364,3079 1302,3079"/><text x="1333" y="3072">mmu-miR-1946a</text></g>
<g id="b-mir-1231-5p"><polygon points="784,3065 810,3114 758,3114"/><text x="784" y="3115">mmu-miR-1231-5p</text></g>
<g id="b-mir-706"><polygon points="1096,3096 1130,3152 1062,3152"/><text x="1096" y="3145">mmu-miR-706</text></g>
<g id="b-mir-3473d"><polygon points="1431,3110 1465,3163 1397,3163"/><text x="1431" y="3159">mmu-miR-3473d</text></g>
<g id="b-mir-7667-5p"><polygon points="641,3136 677,3185 605,3185"/><text x="641" y="3184">mmu-miR-7667-5p</text></g>
<g id="b-mir-3473a"><polygon points="1156,3170 1188.5,3223 1123.5,3223"/><text x="1156" y="3221">mmu-miR-3473a</text></g>
<g id="b-mir-7222-3p"><polygon points="872,3180 904.5,3230 839.5,3230"/><text x="872" y="3228">mmu-miR-7222-3p</text></g>
<g id="b-mir-709"><polygon points="1411,3198 1461,3254 1361,3254"/><text x="1411" y="3247">mmu-miR-709</text></g>
<g id="b-mir-1195"><polygon points="683,3241 715.5,3290 650.5,3290"/><text x="683" y="3288">mmu-miR-1195</text></g>
<g id="b-mir-3473e"><polygon points="1267,3261 1303,3317 1231,3317"/><text x="1267" y="3310">mmu-miR-3473e</text></g>
<g id="b-mir-3473b"><polygon points="985,3275 1015,3331 955,3331"/><text x="985" y="3324">mmu-miR-3473b</text></g>

<g id="b-XR_386070.2"><circle cx="1010" cy="1853" r="14"/><text x="1010" y="1877">XR_386070.2</text></g>
<g id="b-ENSMUST00000183339"><circle cx="868" cy="1901" r="14"/><text x="868" y="1925">ENSMUST00000183339</text></g>
<g id="b-XR_378841.2"><circle cx="701" cy="2003" r="14"/><text x="701" y="2027">XR_378841.2</text></g>
<g id="b-XR_001779443.1"><circle cx="899" cy="2008" r="14"/><text x="899" y="2032">XR_001779443.1</text></g>
<g id="b-XR_868144.1"><circle cx="695" cy="2087" r="14"/><text x="695" y="2111">XR_868144.1</text></g>
<g id="b-ENSMUST00000180682"><circle cx="904" cy="2114" r="14"/><text x="904" y="2138">ENSMUST00000180682</text></g>
<g id="b-ENSMUST00000236886"><circle cx="528" cy="2155" r="14"/><text x="528" y="2179">ENSMUST00000236886</text></g>
<g id="b-XR_867417.2"><circle cx="802" cy="2172" r="14"/><text x="802" y="2196">XR_867417.2</text></g>
<g id="b-ENSMUST00000232175"><circle cx="570" cy="2226" r="14"/><text x="570" y="2250">ENSMUST00000232175</text></g>
<g id="b-ENSMUST00000214779"><circle cx="825" cy="2264" r="14"/><text x="825" y="2288">ENSMUST00000214779</text></g>
<g id="b-ENSMUST00000144545"><circle cx="493" cy="2299" r="14"/><text x="493" y="2323">ENSMUST00000144545</text></g>
<g id="b-XR_001781619.1"><circle cx="402" cy="2373" r="14"/><text x="402" y="2397">XR_001781619.1</text></g>
<g id="b-XR_879375.2"><circle cx="707" cy="2391" r="14"/><text x="707" y="2415">XR_879375.2</text></g>
<g id="b-XR_866443.1"><circle cx="317" cy="2441" r="14"/><text x="317" y="2465">XR_866443.1</text></g>
<g id="b-XR_385829.3"><circle cx="542" cy="2442" r="14"/><text x="542" y="2466">XR_385829.3</text></g>
<g id="b-ENSMUST00000209429"><circle cx="281" cy="2502" r="14"/><text x="281" y="2526">ENSMUST00000209429</text></g>
<g id="b-XR_001783925.1"><circle cx="753" cy="2497" r="14"/><text x="753" y="2521">XR_001783925.1</text></g>
<g id="b-XR_001781915.1"><circle cx="539" cy="2535" r="14"/><text x="539" y="2559">XR_001781915.1</text></g>
<g id="b-XR_384364.3"><circle cx="362" cy="2578" r="14"/><text x="362" y="2602">XR_384364.3</text></g>
<g id="b-XR_001781268.1"><circle cx="517" cy="2637" r="14"/><text x="517" y="2661">XR_001781268.1</text></g>
<g id="b-XR_880759.1"><circle cx="217" cy="2656" r="14"/><text x="217" y="2680">XR_880759.1</text></g>
<g id="b-XR_001779206.1"><circle cx="384" cy="2704" r="14"/><text x="384" y="2728">XR_001779206.1</text></g>
<g id="b-XR_001780928.1"><circle cx="639" cy="2691" r="14"/><text x="639" y="2715">XR_001780928.1</text></g>
<g id="b-XR_869872.2"><circle cx="1154" cy="1804" r="14"/><text x="1154" y="1828">XR_869872.2</text></g>
<g id="b-ENSMUST00000181224"><circle cx="1460" cy="1817" r="14"/><text x="1460" y="1841">ENSMUST00000181224</text></g>
<g id="b-XR_387251.1"><circle cx="1223" cy="1854" r="14"/><text x="1223" y="1878">XR_387251.1</text></g>
<g id="b-ENSMUST00000221684"><circle cx="1568" cy="1875" r="14"/><text x="1568" y="1899">ENSMUST00000221684</text></g>
<g id="b-NR_110333.1"><circle cx="1159" cy="1923" r="14"/><text x="1159" y="1947">NR_110333.1</text></g>
<g id="b-ENSMUST00000181303"><circle cx="1483" cy="1926" r="14"/><text x="1483" y="1950">ENSMUST00000181303</text></g>
<g id="b-ENSMUST00000219324"><circle cx="1242" cy="1993" r="14"/><text x="1242" y="2017">ENSMUST00000219324</text></g>
<g id="b-NR_028382.1"><circle cx="1644" cy="1988" r="14"/><text x="1644" y="2012">NR_028382.1</text></g>
<g id="b-ENSMUST00000192149"><circle cx="1031" cy="2056" r="14"/><text x="1031" y="2080">ENSMUST00000192149</text></g>
<g id="b-XR_001785368.1"><circle cx="1429" cy="2041" r="14"/><text x="1429" y="2065">XR_001785368.1</text></g>
<g id="b-XR_001781351.1"><circle cx="1706" cy="2055" r="14"/><text x="1706" y="2079">XR_001781351.1</text></g>
<g id="b-XR_878968.2"><circle cx="1235" cy="2114" r="14"/><text x="1235" y="2138">XR_878968.2</text></g>
<g id="b-XR_878970.2"><circle cx="1472" cy="2107" r="14"/><text x="1472" y="2131">XR_878970.2</text></g>
<g id="b-XR_881933.2"><circle cx="1714" cy="2129" r="14"/><text x="1714" y="2153">XR_881933.2</text></g>
<g id="b-ENSMUST00000180429"><circle cx="1470" cy="2172" r="14"/><text x="1470" y="2196">ENSMUST00000180429</text></g>
<g id="b-ENSMUST00000180850"><circle cx="1150" cy="2208" r="14"/><text x="1150" y="2232">ENSMUST00000180850</text></g>
<g id="b-XR_001782641.1"><circle cx="1595" cy="2229" r="14"/><text x="1595" y="2253">XR_001782641.1</text></g>
<g id="b-ENSMUST00000185121"><circle cx="1909" cy="2222" r="14"/><text x="1909" y="2246">ENSMUST00000185121</text></g>
<g id="b-NR_045294.1"><circle cx="1356" cy="2273" r="14"/><text x="1356" y="2297">NR_045294.1</text></g>
<g id="b-NR_045744.1"><circle cx="1786" cy="2301" r="14"/><text x="1786" y="2325">NR_045744.1</text></g>
<g id="b-XR_385910.2"><circle cx="1568" cy="2335" r="14"/><text x="1568" y="2359">XR_385910.2</text></g>
<g id="b-XR_384437.3"><circle cx="1848" cy="2350" r="14"/><text x="1848" y="2374">XR_384437.3</text></g>
<g id="b-XR_869219.1"><circle cx="1652" cy="2415" r="14"/><text x="1652" y="2439">XR_869219.1</text></g>
<g id="b-XR_869274.2"><circle cx="1914" cy="2415" r="14"/><text x="1914" y="2439">XR_869274.2</text></g>
<g id="b-ENSMUST00000183084"><circle cx="1730" cy="2473" r="14"/><text x="1730" y="2497">ENSMUST00000183084</text></g>
<g id="b-ENSMUST00000198198"><circle cx="1711" cy="2525" r="14"/><text x="1711" y="2549">ENSMUST00000198198</text></g>
<g id="b-XR_873971.2"><circle cx="1867" cy="2576" r="14"/><text x="1867" y="2600">XR_873971.2</text></g>
<g id="b-XR_870479.2"><circle cx="1684" cy="2609" r="14"/><text x="1684" y="2633">XR_870479.2</text></g>
<g id="b-XR_390555.3"><circle cx="1809" cy="2658" r="14"/><text x="1809" y="2682">XR_390555.3</text></g>
<g id="b-ENSMUST00000181963"><circle cx="1781" cy="2711" r="14"/><text x="1781" y="2735">ENSMUST00000181963</text></g>
<g id="b-XR_001778890.1"><circle cx="496" cy="2770" r="14"/><text x="496" y="2794">XR_001778890.1</text></g>
<g id="b-NR_045042.1"><circle cx="229" cy="2786" r="14"/><text x="229" y="2810">NR_045042.1</text></g>
<g id="b-XR_868543.1"><circle cx="735" cy="2776" r="14"/><text x="735" y="2800">XR_868543.1</text></g>
<g id="b-XR_389195.2"><circle cx="433" cy="2844" r="14"/><text x="433" y="2868">XR_389195.2</text></g>
<g id="b-XR_001782812.1"><circle cx="644" cy="2839" r="14"/><text x="644" y="2863">XR_001782812.1</text></g>
<g id="b-ENSMUST00000181170"><circle cx="464" cy="2909" r="14"/><text x="464" y="2933">ENSMUST00000181170</text></g>
<g id="b-ENSMUST00000233201"><circle cx="189" cy="2949" r="14"/><text x="189" y="2973">ENSMUST00000233201</text></g>
<g id="b-ENSMUST00000212714"><circle cx="427" cy="2993" r="14"/><text x="427" y="3017">ENSMUST00000212714</text></g>
<g id="b-ENSMUST00000156150"><circle cx="678" cy="3040" r="14"/><text x="678" y="3064">ENSMUST00000156150</text></g>
<g id="b-XR_001779173.1"><circle cx="190" cy="3065" r="14"/><text x="190" y="3089">XR_001779173.1</text></g>
<g id="b-NR_045032.1"><circle cx="401" cy="3063" r="14"/><text x="401" y="3087">NR_045032.1</text></g>
<g id="b-ENSMUST00000181538"><circle cx="284" cy="3136" r="14"/><text x="284" y="3160">ENSMUST00000181538</text></g>
<g id="b-ENSMUST00000141787"><circle cx="412" cy="3206" r="14"/><text x="412" y="3230">ENSMUST00000141787</text></g>
<g id="b-ENSMUST00000055369"><circle cx="335" cy="3281" r="14"/><text x="335" y="3305">ENSMUST00000055369</text></g>
<g id="b-XR_001780964.1"><circle cx="291" cy="3340" r="14"/><text x="291" y="3364">XR_001780964.1</text></g>
<g id="b-NR_046182.1"><circle cx="572" cy="3326" r="14"/><text x="572" y="3350">NR_046182.1</text></g>
<g id="b-XR_375274.3"><circle cx="848" cy="3377" r="14"/><text x="848" y="3401">XR_375274.3</text></g>
<g id="b-ENSMUST00000181866"><circle cx="517" cy="3417" r="14"/><text x="517" y="3441">ENSMUST00000181866</text></g>
<g id="b-ENSMUST00000181732"><circle cx="258" cy="3470" r="14"/><text x="258" y="3494">ENSMUST00000181732</text></g>
<g id="b-ENSMUST00000165458"><circle cx="611" cy="3479" r="14"/><text x="611" y="3503">ENSMUST00000165458</text></g>
<g id="b-XR_385047.2"><circle cx="945" cy="3470" r="14"/><text x="945" y="3494">XR_385047.2</text></g>
<g id="b-NR_040464.1"><circle cx="241" cy="3536" r="14"/><text x="241" y="3560">NR_040464.1</text></g>
<g id="b-XR_001783520.1"><circle cx="485" cy="3545" r="14"/><text x="485" y="3569">XR_001783520.1</text></g>
<g id="b-XR_001778966.1"><circle cx="766" cy="3547" r="14"/><text x="766" y="3571">XR_001778966.1</text></g>
<g id="b-XR_001778080.1"><circle cx="243" cy="3619" r="14"/><text x="243" y="3643">XR_001778080.1</text></g>
<g id="b-XR_001779055.1"><circle cx="511" cy="3622" r="14"/><text x="511" y="3646">XR_001779055.1</text></g>
<g id="b-XR_001778041.1"><circle cx="779" cy="3626" r="14"/><text x="779" y="3650">XR_001778041.1</text></g>
<g id="b-ENSMUST00000217849"><circle cx="353" cy="3691" r="14"/><text x="353" y="3715">ENSMUST00000217849</text></g>
<g id="b-ENSMUST00000210319"><circle cx="732" cy="3691" r="14"/><text x="732" y="3715">ENSMUST00000210319</text></g>
<g id="b-XR_001782922.1"><circle cx="514" cy="3756" r="14"/><text x="514" y="3780">XR_001782922.1</text></g>
<g id="b-XR_001782921.1"><circle cx="818" cy="3759" r="14"/><text x="818" y="3783">XR_001782921.1</text></g>
<g id="b-XR_873023.2"><circle cx="1005" cy="3549" r="14"/><text x="1005" y="3573">XR_873023.2</text></g>
<g id="b-XR_873685.1"><circle cx="1014" cy="3688" r="14"/><text x="1014" y="3712">XR_873685.1</text></g>
<g id="b-XR_001779122.1"><circle cx="1101" cy="3763" r="14"/><text x="1101" y="3787">XR_001779122.1</text></g>
<g id="b-XR_001782201.1"><circle cx="1083" cy="3375" r="14"/><text x="1083" y="3399">XR_001782201.1</text></g>
<g id="b-ENSMUST00000140833"><circle cx="1103" cy="3612" r="14"/><text x="1103" y="3636">ENSMUST00000140833</text></g>
<g id="b-XR_378826.2"><circle cx="1704" cy="2784" r="14"/><text x="1704" y="2808">XR_378826.2</text></g>
<g id="b-XR_866724.1"><circle cx="1914" cy="2770" r="14"/><text x="1914" y="2794">XR_866724.1</text></g>
<g id="b-ENSMUST00000214073"><circle cx="1761" cy="2851" r="14"/><text x="1761" y="2875">ENSMUST00000214073</text></g>
<g id="b-ENSMUST00000214276"><circle cx="1820" cy="2919" r="14"/><text x="1820" y="2943">ENSMUST00000214276</text></g>
<g id="b-ENSMUST00000127920"><circle cx="2005" cy="2974" r="14"/><text x="2005" y="2998">ENSMUST00000127920</text></g>
<g id="b-NR_028264.1"><circle cx="1770" cy="3005" r="14"/><text x="1770" y="3029">NR_028264.1</text></g>
<g id="b-ENSMUST00000183512"><circle cx="2106" cy="3026" r="14"/><text x="2106" y="3050">ENSMUST00000183512</text></g>
<g id="b-XR_378314.2"><circle cx="1662" cy="3054" r="14"/><text x="1662" y="3078">XR_378314.2</text></g>
<g id="b-XR_378318.2"><circle cx="1920" cy="3089" r="14"/><text x="1920" y="3113">XR_378318.2</text></g>
<g id="b-ENSMUST00000140371"><circle cx="1745" cy="3135" r="14"/><text x="1745" y="3159">ENSMUST00000140371</text></g>
<g id="b-XR_001780655.1"><circle cx="2031" cy="3161" r="14"/><text x="2031" y="3185">XR_001780655.1</text></g>
<g id="b-XR_001778266.1"><circle cx="1701" cy="3199" r="14"/><text x="1701" y="3223">XR_001778266.1</text></g>
<g id="b-ENSMUST00000133824"><circle cx="1771" cy="3247" r="14"/><text x="1771" y="3271">ENSMUST00000133824</text></g>
<g id="b-NR_038049.1"><circle cx="1723" cy="3300" r="14"/><text x="1723" y="3324">NR_038049.1</text></g>
<g id="b-ENSMUST00000149618"><circle cx="2047" cy="3304" r="14"/><text x="2047" y="3328">ENSMUST00000149618</text></g>
<g id="b-XR_869397.2"><circle cx="1498" cy="3307" r="14"/><text x="1498" y="3331">XR_869397.2</text></g>
<g id="b-XR_869841.2"><circle cx="1335" cy="3358" r="14"/><text x="1335" y="3382">XR_869841.2</text></g>
<g id="b-XR_877055.1"><circle cx="1514" cy="3391" r="14"/><text x="1514" y="3415">XR_877055.1</text></g>
<g id="b-ENSMUST00000197054"><circle cx="1862" cy="3370" r="14"/><text x="1862" y="3394">ENSMUST00000197054</text></g>
<g id="b-XR_001782452.1"><circle cx="1659" cy="3442" r="14"/><text x="1659" y="3466">XR_001782452.1</text></g>
<g id="b-XR_881887.2"><circle cx="1896" cy="3442" r="14"/><text x="1896" y="3466">XR_881887.2</text></g>
<g id="b-XR_876271.1"><circle cx="1168" cy="3466" r="14"/><text x="1168" y="3490">XR_876271.1</text></g>
<g id="b-XR_876272.1"><circle cx="1390" cy="3458" r="14"/><text x="1390" y="3482">XR_876272.1</text></g>
<g id="b-XR_001778059.1"><circle cx="1672" cy="3531" r="14"/><text x="1672" y="3555">XR_001778059.1</text></g>
<g id="b-XR_873027.2"><circle cx="1223" cy="3554" r="14"/><text x="1223" y="3578">XR_873027.2</text></g>
<g id="b-XR_875673.2"><circle cx="1425" cy="3544" r="14"/><text x="1425" y="3568">XR_875673.2</text></g>
<g id="b-ENSMUST00000125191"><circle cx="1473" cy="3624" r="14"/><text x="1473" y="3648">ENSMUST00000125191</text></g>
<g id="b-ENSMUST00000222732"><circle cx="1846" cy="3615" r="14"/><text x="1846" y="3639">ENSMUST00000222732</text></g>
<g id="b-XR_001781745.1"><circle cx="1281" cy="3691" r="14"/><text x="1281" y="3715">XR_001781745.1</text></g>
<g id="b-XR_384345.3"><circle cx="1509" cy="3693" r="14"/><text x="1509" y="3717">XR_384345.3</text></g>
<g id="b-XR_870242.2"><circle cx="1737" cy="3691" r="14"/><text x="1737" y="3715">XR_870242.2</text></g>
<g id="b-XR_001781743.1"><circle cx="1982" cy="3689" r="14"/><text x="1982" y="3713">XR_001781743.1</text></g>
</g>

<g id="pc">
<g id="c-trim67"><rect x="3029" y="1784" width="255" height="205"/><text x="3157" y="1912">Trim67</text></g>
<g id="c-fndc8"><rect x="2433" y="2232" width="254" height="203"/><text x="2560" y="2359">Fndc8</text></g>
<g id="c-mir-34c-5p"><polygon points="2971,2236 3098,2438 2842,2438"/><text x="2971" y="2359">mmu-miR-34c-5p</text></g>
<g id="c-XR_386070.2"><ellipse cx="2992" cy="2855" rx="127" ry="101"/><text x="2992" y="2881">XR_386070.2</text></g>
<g id="c-mir-7002-3p"><polygon points="3467,2016 3595,2220 3340,2220"/><text x="3467" y="2145">mmu-miR-7002-3p</text></g>
<g id="c-XR_385829.3"><ellipse cx="3840" cy="2063" rx="127" ry="102"/><text x="3840" y="2089">XR_385829.3</text></g>
<g id="c-zbtb16"><rect x="3427" y="2500" width="255" height="202"/><text x="3555" y="2627">Zbtb16</text></g>
<g id="c-ENSMUST00000183339"><ellipse cx="2560" cy="3046" rx="127" ry="100"/><text x="2560" y="3072">ENSMUST00000183339</text></g>
<g id="c-zcchc11"><rect x="3160" y="3006" width="254" height="205"/><text x="3287" y="3134">ZCCHC11</text></g>
<g id="c-mir-182-5p"><polygon points="2946,3495 3074,3698 2819,3698"/><text x="2946" y="3621">mmu-miR-182-5p</text></g>
</g>
</svg>
